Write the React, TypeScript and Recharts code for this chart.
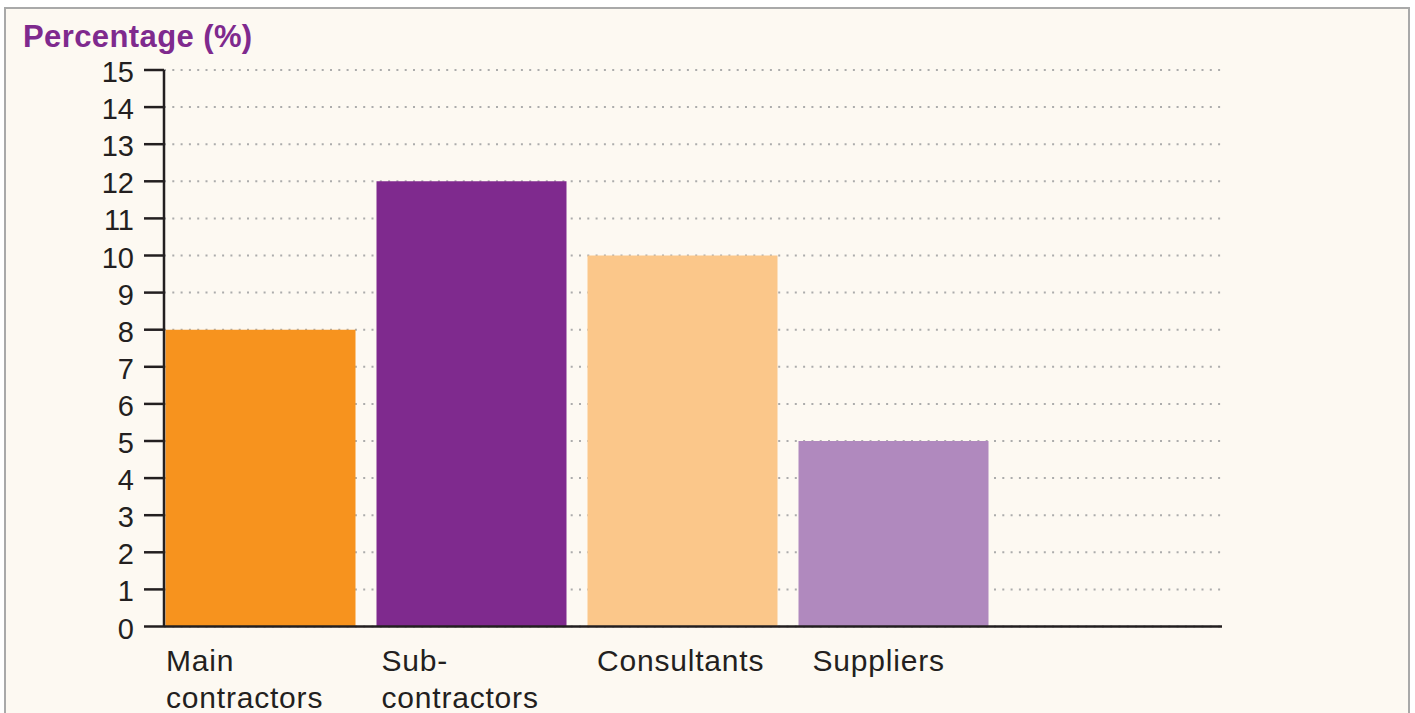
import React from 'react';
import { BarChart, Bar, XAxis, YAxis, CartesianGrid, Cell } from 'recharts';

const categories = ['Main contractors', 'Sub-contractors', 'Consultants', 'Suppliers'];
const tickLines = [['Main', 'contractors'], ['Sub-', 'contractors'], ['Consultants'], ['Suppliers']];
const percentages = [8, 12, 10, 5];
const barColors = ['#f7931e', '#7f2a8e', '#fbc78a', '#b089be'];
const yTicks = [0, 1, 2, 3, 4, 5, 6, 7, 8, 9, 10, 11, 12, 13, 14, 15];

const data = categories.map((name, i) => ({ name, value: percentages[i] }));

const FONT = '"Liberation Sans", Arial, Helvetica, sans-serif';
const INK = '#231f20';

const YTick = (props: any) => {
  const { x, y, payload } = props;
  return (
    <text x={x} y={y} dy={12} textAnchor="end" fontSize={29} fontFamily={FONT} fill={INK}>
      {payload.value}
    </text>
  );
};

const XTick = (props: any) => {
  const { x, y, payload, index } = props;
  const lines = tickLines[index] || [payload.value];
  const left = x - 94 + index * 4.5;
  return (
    <text x={left} y={y} textAnchor="start" fontSize={30} letterSpacing={0.8} fontFamily={FONT} fill={INK}>
      {lines.map((l: string, i: number) => (
        <tspan key={i} x={left} dy={i === 0 ? 36 : 37}>{l}</tspan>
      ))}
    </text>
  );
};

export default function App() {
  return (
    <div style={{ position: 'absolute', left: 0, top: 0, width: 1415, height: 713, overflow: 'hidden' }}>
      <div
        style={{
          position: 'absolute', left: 4, top: 7, width: 1402, height: 720,
          border: '2px solid #a9a9a9', background: '#fdf9f2',
        }}
      />
      <div
        style={{
          position: 'absolute', left: 23, top: 19, fontFamily: FONT, fontWeight: 700,
          fontSize: 31, letterSpacing: 0.4, color: '#7f2a8e', lineHeight: '36px',
        }}
      >
        Percentage (%)
      </div>
      <div style={{ position: 'absolute', left: 0, top: 0 }}>
        <BarChart width={1415} height={713} data={data} margin={{ top: 70, right: 193, bottom: 0, left: 0 }}>
          <CartesianGrid vertical={false} stroke="#acacac" strokeWidth={2} strokeDasharray="2 6.3" />
          <XAxis
            dataKey="name"
            height={86.5}
            padding={{ left: -9.5, right: 223.5 }}
            axisLine={{ stroke: INK, strokeWidth: 2.5 }}
            tickLine={false}
            tick={<XTick />}
            interval={0}
          />
          <YAxis
            width={164}
            domain={[0, 15]}
            ticks={yTicks}
            interval={0}
            axisLine={{ stroke: INK, strokeWidth: 2.5 }}
            tickLine={{ stroke: INK, strokeWidth: 2.5 }}
            tickSize={20}
            tickMargin={10}
            tick={<YTick />}
          />
          <Bar dataKey="value" barSize={190} isAnimationActive={false}>
            {data.map((d, i) => (
              <Cell key={d.name} fill={barColors[i]} />
            ))}
          </Bar>
        </BarChart>
      </div>
    </div>
  );
}
